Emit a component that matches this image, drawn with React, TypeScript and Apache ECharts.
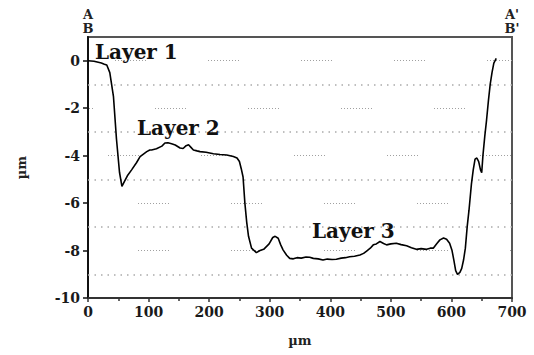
import React, { useEffect, useRef } from "react";
import * as echarts from "echarts";

// Profile data: [position (µm), height (µm)]
const profileX = [
  0, 10, 22, 27, 31, 36, 42, 47, 52, 56, 60, 65, 72, 80, 86, 97, 102, 105, 113, 122, 127, 132, 138, 144, 152, 157, 162, 166, 170, 174, 180, 185, 195, 207, 218, 229, 240, 246, 250, 253, 256, 259, 262, 265, 270, 278, 284, 290, 299, 305, 309, 314, 318, 322, 328, 333, 339, 345, 352, 360, 366, 372, 380, 388, 395, 403, 410, 418, 425, 432, 440, 449, 455, 460, 466, 471, 476, 482, 488, 493, 500, 509, 517, 526, 534, 542, 550, 559, 565, 570, 576, 581, 587, 592, 597, 601, 604, 607, 610, 614, 617, 620, 623, 626, 629, 633, 636, 639, 642, 645, 648, 650, 652, 655, 658, 661, 664, 667, 670, 674,
];
const profileY = [
  0, -0.02, -0.1, -0.15, -0.18, -0.5, -1.5, -3.3, -4.7, -5.3, -5.1, -4.85, -4.6, -4.3, -4.04, -3.83, -3.76, -3.76, -3.71, -3.6, -3.47, -3.46, -3.5, -3.55, -3.68, -3.7, -3.58, -3.54, -3.65, -3.76, -3.8, -3.83, -3.86, -3.92, -3.95, -3.97, -4.04, -4.1, -4.25, -4.55, -4.9, -6.0, -6.8, -7.4, -7.9, -8.09, -8.0, -7.95, -7.72, -7.45, -7.4, -7.48, -7.75, -7.97, -8.2, -8.33, -8.35, -8.3, -8.32, -8.27, -8.28, -8.33, -8.35, -8.4, -8.36, -8.38, -8.37, -8.32, -8.3, -8.26, -8.24, -8.19, -8.12, -8.02, -7.9, -7.76, -7.72, -7.62, -7.7, -7.76, -7.72, -7.69, -7.75, -7.8, -7.88, -7.95, -7.92, -7.95, -7.9, -7.9, -7.7, -7.55, -7.47, -7.52, -7.69, -8.0, -8.4, -8.85, -9.0, -8.92, -8.75, -8.4, -7.9, -7.0, -6.3, -5.2, -4.6, -4.15, -4.1, -4.25, -4.6, -4.72, -4.0, -3.2, -2.5, -1.7, -1.0, -0.5, -0.1, 0.1,
];

const yTickLabels = [-10, -8, -6, -4, -2, 0];
const xTickLabels = [0, 100, 200, 300, 400, 500, 600, 700];
// odd-valued grid lines (dotted across the plot)
const oddGridValues = [-9, -7, -5, -3, -1];
// start offsets (px from left of plot) of the segmented dotted grid on even lines
const evenGridValues = [-8, -6, -4, -2, 0];
const evenGridOffsets = [50, 50, 20, 67, 27];

const layerLabels = [
  { text: "Layer 1", x: 95, y: 52 },
  { text: "Layer 2", x: 137, y: 128 },
  { text: "Layer 3", x: 312, y: 231 },
];

const FONT = "DejaVu Serif";

export default function App() {
  const ref = useRef<HTMLDivElement>(null);

  useEffect(() => {
    if (!ref.current) return;
    const chart = echarts.init(ref.current, undefined, { renderer: "svg" });

    const segDash: number[] = [];
    for (let i = 0; i < 11; i++) {
      segDash.push(1);
      segDash.push(i < 10 ? 2 : 62);
    }
    const period = segDash.reduce((a, b) => a + b, 0);

    const data = profileX.map((x, i) => [x, profileY[i]]);

    const gridLines = [
      ...oddGridValues.map((v) => ({
        yAxis: v,
        lineStyle: { color: "#aaaaaa", width: 1.5, type: [1.5, 5] },
      })),
      ...evenGridValues.map((v, i) => ({
        yAxis: v,
        lineStyle: {
          color: "#a0a0a0",
          width: 1,
          type: segDash,
          dashOffset: (period - evenGridOffsets[i]) % period,
        },
      })),
    ];

    chart.setOption({
      animation: false,
      backgroundColor: "#ffffff",
      grid: {
        left: 88,
        right: 22,
        top: 37,
        bottom: 57,
        show: true,
        borderColor: "#555",
        borderWidth: 2,
        backgroundColor: "transparent",
      },
      xAxis: {
        type: "value",
        min: 0,
        max: 700,
        interval: 100,
        name: "µm",
        nameLocation: "middle",
        nameGap: 36,
        nameTextStyle: { fontFamily: FONT, fontWeight: "bold", fontSize: 13, color: "#222" },
        axisLine: { show: true, onZero: false, lineStyle: { color: "#333", width: 2 } },
        axisTick: { show: true, length: 4, lineStyle: { color: "#333", width: 1.5 } },
        minorTick: { show: true, splitNumber: 2, length: 3, lineStyle: { color: "#333", width: 1.5 } },
        splitLine: { show: false },
        axisLabel: {
          customValues: xTickLabels,
          fontFamily: FONT,
          fontWeight: "bold",
          fontSize: 14,
          color: "#1a1a1a",
          margin: 7,
        },
      },
      yAxis: {
        type: "value",
        min: -10,
        max: 1,
        interval: 1,
        name: "µm",
        nameLocation: "middle",
        nameRotate: 90,
        nameGap: 60,
        nameTextStyle: { fontFamily: FONT, fontWeight: "bold", fontSize: 13, color: "#222" },
        axisLine: { show: true, onZero: false, lineStyle: { color: "#111", width: 2 } },
        axisTick: { show: true, customValues: yTickLabels, length: 5, lineStyle: { color: "#111", width: 1.5 } },
        splitLine: { show: false },
        axisLabel: {
          customValues: yTickLabels,
          fontFamily: FONT,
          fontWeight: "bold",
          fontSize: 14,
          color: "#1a1a1a",
          margin: 8,
        },
      },
      series: [
        {
          type: "line",
          data,
          showSymbol: false,
          smooth: false,
          lineStyle: { color: "#000", width: 1.6 },
          z: 5,
          markLine: {
            silent: true,
            symbol: "none",
            label: { show: false },
            animation: false,
            z: 1,
            data: gridLines,
          },
        },
      ],
      graphic: [
        ...layerLabels.map((l) => ({
          type: "text",
          x: l.x,
          y: l.y,
          z: 10,
          style: {
            text: l.text,
            fontFamily: FONT,
            fontWeight: "bold",
            fontSize: 20,
            fill: "#111",
            textAlign: "left",
            textVerticalAlign: "middle",
          },
        })),
        { type: "text", x: 88, y: 14, style: { text: "A", fontFamily: FONT, fontWeight: "bold", fontSize: 13, fill: "#222", textAlign: "center", textVerticalAlign: "middle" } },
        { type: "text", x: 88, y: 28, style: { text: "B", fontFamily: FONT, fontWeight: "bold", fontSize: 13, fill: "#222", textAlign: "center", textVerticalAlign: "middle" } },
        { type: "text", x: 512, y: 14, style: { text: "A'", fontFamily: FONT, fontWeight: "bold", fontSize: 13, fill: "#222", textAlign: "center", textVerticalAlign: "middle" } },
        { type: "text", x: 512, y: 28, style: { text: "B'", fontFamily: FONT, fontWeight: "bold", fontSize: 13, fill: "#222", textAlign: "center", textVerticalAlign: "middle" } },
      ],
    });

    return () => chart.dispose();
  }, []);

  return (
    <div
      ref={ref}
      style={{ position: "fixed", left: 0, top: 0, width: 534, height: 355 }}
    />
  );
}
